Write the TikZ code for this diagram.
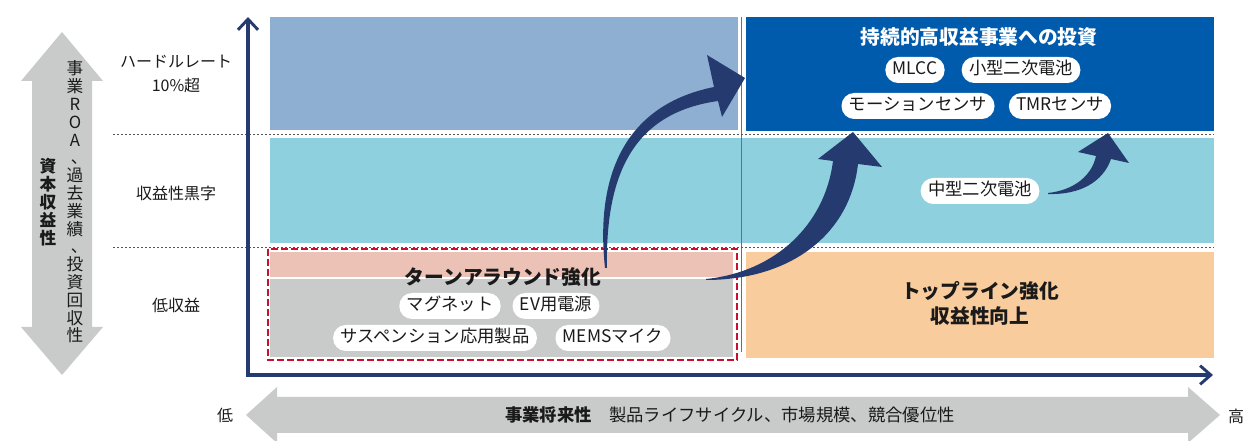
\documentclass[tikz,border=0pt]{standalone}
\usepackage{fontspec}
\setmainfont{Noto Sans CJK JP}
\usetikzlibrary{arrows.meta}
\definecolor{bandTL}{HTML}{8FAFD2}
\definecolor{bandTR}{HTML}{005BAC}
\definecolor{bandMid}{HTML}{8ED0DE}
\definecolor{salmon}{HTML}{ECC1B6}
\definecolor{grayBL}{HTML}{C9CACA}
\definecolor{orangeBR}{HTML}{F8CC9C}
\definecolor{arrowgray}{HTML}{C9CACA}
\definecolor{navy}{HTML}{253A6E}
\definecolor{redline}{HTML}{C8102E}
\definecolor{dotgray}{HTML}{555555}
\definecolor{sepgray}{HTML}{6F6F6F}
\definecolor{txt}{HTML}{1A1A1A}
\newcommand\vcomma{\makebox[1em][c]{\hspace*{0.5em}、}}
\begin{document}
\begin{tikzpicture}[x=0.75pt,y=-0.75pt,
  lbl/.style={text=txt,inner sep=0pt,font=\fontsize{12}{14}\selectfont},
  pill/.style={fill=white,rounded corners=9.5pt,minimum height=19.5pt,inner xsep=5.5pt,inner ysep=0pt,
    text height=0.85em,text depth=0.13em,text=txt,font=\fontsize{13}{14}\selectfont},
  titleb/.style={text=txt,inner sep=0pt,font=\bfseries\fontsize{14.8}{18.75}\selectfont,align=center},
  titlew/.style={text=white,inner sep=0pt,font=\bfseries\fontsize{14.8}{18}\selectfont},
  vtxt/.style={text=txt,inner sep=0pt,align=center,font=\fontsize{12.5}{13.35}\selectfont},
  vtxtb/.style={text=txt,inner sep=0pt,align=center,font=\bfseries\fontsize{12.5}{13.5}\selectfont},
  dotline/.style={dotgray,line width=0.75pt,dash pattern=on 1.5pt off 1.5pt},
  axis/.style={navy,line width=3pt,{Straight Barb[length=8pt,width=15pt,line width=2.2pt]}-{Straight Barb[length=8pt,width=14pt,line width=2.2pt]}},
  bigarrow/.style={fill=navy}]
\useasboundingbox (0,0) rectangle (1243,441);

% gray double arrows
\fill[arrowgray] (62,32) -- (103,81) -- (92,81) -- (92,327) -- (103,327) -- (62,375) -- (21,327) -- (32,327) -- (32,81) -- (21,81) -- cycle;
\fill[arrowgray] (246,415) -- (277,387) -- (277,397) -- (1188,397) -- (1188,387) -- (1220,415) -- (1188,443) -- (1188,433) -- (277,433) -- (277,443) -- cycle;

% bands
\fill[bandTL] (270,17) rectangle (738,130);
\fill[bandTR] (746,17) rectangle (1214,131);
\fill[bandMid] (270,138) rectangle (1214,243);
\fill[salmon] (270,252) rectangle (733,277);
\fill[grayBL] (270,279) rectangle (733,357);
\fill[orangeBR] (746,252) rectangle (1214,358);

% separator and dotted lines
\draw[sepgray,line width=1.1pt] (741.5,17) -- (741.5,352);
\draw[dotline] (113,134.5) -- (1214,134.5);
\draw[dotline] (113,247.5) -- (1214,247.5);

% red dashed frame
\draw[redline,line width=2.2pt,dash pattern=on 5pt off 2.5pt] (268,249) rectangle (737,360);

% axes
\coordinate (ytop) at (248,17);
\coordinate (origin) at (248,375);
\coordinate (xend) at (1213,375);
\draw[axis] (ytop) -- (origin) -- (xend);

% curved arrows
\fill[bigarrow] (605,268) .. controls (595,175) and (625,105) .. (714,87) -- (707,55) -- (745,78) -- (722,117) -- (718,101) .. controls (640,112) and (605,165) .. (607,268) -- cycle;
\fill[bigarrow] (706,279) .. controls (775,272) and (825,225) .. (833,161) -- (818,159) -- (853,132) -- (882,167) -- (858,164) .. controls (850,235) and (790,280) .. (706,280) -- cycle;
\fill[bigarrow] (1048,193) .. controls (1075,190) and (1092,175) .. (1096,156) -- (1078,152) -- (1108,133) -- (1129,163) -- (1111,159) .. controls (1103,182) and (1080,195) .. (1048,194) -- cycle;

% left labels
\node[lbl] (hurdle) at (176,62) {ハードルレート};
\node[lbl] (ten) at (176,85) {10\%超};
\node[lbl] (kuro) at (176,193) {収益性黒字};
\node[lbl] (low) at (176,305) {低収益};

% vertical texts
\node[vtxt] (vroa) at (75,202) {事\\業\\R\\O\\A\\\vcomma\\過\\去\\業\\績\\\vcomma\\投\\資\\回\\収\\性};
\node[vtxtb] (vcap) at (48,202) {資\\本\\収\\益\\性};

% bottom labels
\node[lbl] (lo) at (225,415) {低};
\node[lbl] (hi) at (1236,416) {高};
\node[lbl,font=\fontsize{13}{14}\selectfont] (xlab) at (730,415) {\textbf{事業将来性}\quad 製品ライフサイクル、市場規模、競合優位性};

% top-right box
\node[titlew] (ttitle) at (979,37) {持続的高収益事業への投資};
\node[pill] (mlcc) at (915,70) {MLCC};
\node[pill] (small) at (1021,70) {小型二次電池};
\node[pill] (motion) at (918,106) {モーションセンサ};
\node[pill] (tmr) at (1060,106) {TMRセンサ};
\node[pill] (mid) at (980,191) {中型二次電池};

% bottom-left box
\node[titleb] (turn) at (503,277) {ターンアラウンド強化};
\node[pill] (mag) at (450,306) {マグネット};
\node[pill] (ev) at (556,306) {EV用電源};
\node[pill] (susp) at (435,338) {サスペンション応用製品};
\node[pill] (mems) at (613,338) {MEMSマイク};

% bottom-right box
\node[titleb] (topline) at (980,303) {トップライン強化\\収益性向上};
\end{tikzpicture}
\end{document}
